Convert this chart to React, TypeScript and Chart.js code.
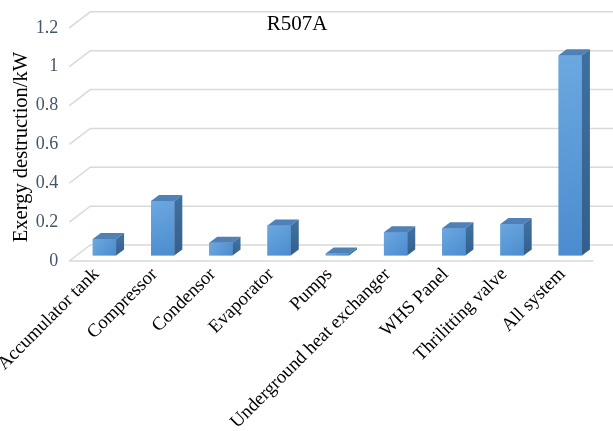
import React, { useEffect, useRef } from "react";
import { Chart, registerables } from "chart.js";

Chart.register(...registerables);

// Exergy destruction per component (kW), refrigerant R507A
const categories = [
  "Accumulator tank",
  "Compressor",
  "Condensor",
  "Evaporator",
  "Pumps",
  "Underground heat exchanger",
  "WHS Panel",
  "Thrilitting valve",
  "All system",
];
const exergyDestruction = [0.085, 0.28, 0.066, 0.155, 0.01, 0.12, 0.14, 0.162, 1.03];
const yTickValues = [0, 0.2, 0.4, 0.6, 0.8, 1, 1.2];
const chartTitle = "R507A";
const yAxisTitle = "Exergy destruction/kW";

const SERIF = "'Liberation Serif', 'Times New Roman', serif";

// Oblique projection of the floor / back wall and of the bar prisms
const WALL_FRONT_DY = 5.5;
const WALL_BACK_DY = -10.5;
const WALL_DX = 21;
const BAR_DX = 8;
const BAR_DY = -6;

const depthPlugin = {
  id: "depth3d",
  beforeDatasetsDraw(chart: any) {
    const { ctx, chartArea, scales } = chart;
    const y = scales.y;
    const fx = chartArea.left - 6;
    ctx.save();
    ctx.strokeStyle = "#d9d9d9";
    ctx.lineWidth = 1.5;
    yTickValues.forEach((v) => {
      const py = y.getPixelForValue(v);
      ctx.beginPath();
      ctx.moveTo(fx, py + WALL_FRONT_DY);
      ctx.lineTo(fx + WALL_DX, py + WALL_BACK_DY);
      ctx.lineTo(chart.width, py + WALL_BACK_DY);
      ctx.stroke();
    });
    const floorY = y.getPixelForValue(0) + WALL_FRONT_DY;
    ctx.beginPath();
    ctx.moveTo(fx, floorY);
    ctx.lineTo(chartArea.right - 6, floorY);
    ctx.stroke();
    ctx.restore();
  },
  afterDatasetsDraw(chart: any) {
    const { ctx } = chart;
    const meta = chart.getDatasetMeta(0);
    ctx.save();
    meta.data.forEach((bar: any) => {
      const { x, y, base, width } = bar.getProps(["x", "y", "base", "width"], true);
      const x0 = x - width / 2;
      const x1 = x + width / 2;
      // front face
      const g = ctx.createLinearGradient(x0, y, x1, base);
      g.addColorStop(0, "#6ca8e0");
      g.addColorStop(1, "#4b8ccf");
      ctx.fillStyle = g;
      ctx.fillRect(x0, y, width, base - y);
      // top face
      ctx.fillStyle = "#4f80b6";
      ctx.beginPath();
      ctx.moveTo(x0, y);
      ctx.lineTo(x1, y);
      ctx.lineTo(x1 + BAR_DX, y + BAR_DY);
      ctx.lineTo(x0 + BAR_DX, y + BAR_DY);
      ctx.closePath();
      ctx.fill();
      // side face
      const sg = ctx.createLinearGradient(0, y, 0, base);
      sg.addColorStop(0, "#3f6f9f");
      sg.addColorStop(1, "#345f8c");
      ctx.fillStyle = sg;
      ctx.beginPath();
      ctx.moveTo(x1, y);
      ctx.lineTo(x1 + BAR_DX, y + BAR_DY);
      ctx.lineTo(x1 + BAR_DX, base + BAR_DY);
      ctx.lineTo(x1, base);
      ctx.closePath();
      ctx.fill();
    });
    ctx.restore();
  },
  afterDraw(chart: any) {
    const { ctx } = chart;
    ctx.save();
    ctx.fillStyle = "#000";
    ctx.textAlign = "center";
    ctx.textBaseline = "middle";
    ctx.font = `21px ${SERIF}`;
    ctx.fillText(chartTitle, 297, 24);
    ctx.translate(22, 147);
    ctx.rotate(-Math.PI / 2);
    ctx.font = `20.5px ${SERIF}`;
    ctx.fillText(yAxisTitle, 0, 0);
    ctx.restore();
  },
};

export default function App() {
  const ref = useRef<HTMLCanvasElement | null>(null);

  useEffect(() => {
    if (!ref.current) return;
    const chart = new Chart(ref.current, {
      type: "bar",
      data: {
        labels: categories,
        datasets: [
          {
            data: exergyDestruction,
            backgroundColor: "#5b9bd5",
            borderWidth: 0,
            barPercentage: 0.4,
            categoryPercentage: 1,
          },
        ],
      },
      options: {
        responsive: false,
        animation: false,
        layout: { padding: { top: 22.3, right: 13.6, bottom: 0, left: 0 } },
        plugins: {
          legend: { display: false },
          title: { display: false },
          tooltip: { enabled: false },
        },
        scales: {
          x: {
            grid: { display: false },
            border: { display: false },
            ticks: {
              autoSkip: false,
              minRotation: 45,
              maxRotation: 45,
              padding: 0,
              labelOffset: -8,
              color: "#000",
              font: { family: SERIF, size: 18.8 },
            },
            afterFit: (s: any) => {
              s.height = 175.5;
              s.paddingLeft = 0;
              s.paddingRight = 0;
            },
          },
          y: {
            min: 0,
            max: 1.2,
            grid: { display: false },
            border: { display: false },
            afterBuildTicks: (s: any) => {
              s.ticks = yTickValues.map((v) => ({ value: v }));
            },
            ticks: {
              padding: 9,
              labelOffset: 5.5,
              color: "#44546a",
              font: { family: SERIF, size: 18 },
              callback: (v: any) => String(Math.round(Number(v) * 10) / 10),
            },
            afterFit: (s: any) => {
              s.width = 75.3;
              s.paddingTop = 0;
              s.paddingBottom = 0;
            },
          },
        },
      },
      plugins: [depthPlugin],
    });
    return () => chart.destroy();
  }, []);

  return (
    <div style={{ position: "absolute", left: 0, top: 0, width: 613, height: 431, background: "#fff" }}>
      <canvas ref={ref} width={613} height={431} style={{ display: "block" }} />
    </div>
  );
}
